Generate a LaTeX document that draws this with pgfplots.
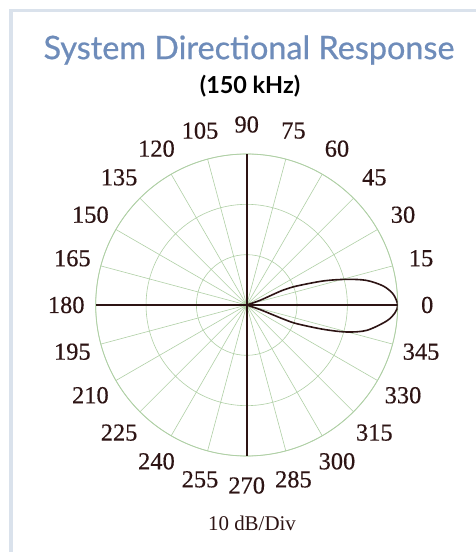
\documentclass[border=0pt]{standalone}
\usepackage{pgfplots}
\pgfplotsset{compat=1.18}
\usepackage{pgfplotstable}
\usepgfplotslibrary{polar}
\usepackage{fontspec}
\setmainfont{Liberation Serif}
\newfontfamily\tickfont[FakeBold=0.4]{Liberation Serif}
\newfontfamily\titlefont{Lato}
\newfontfamily\titlefontheavy[FakeBold=0.6]{Lato}
\definecolor{titleblue}{RGB}{110,140,186}
\definecolor{gridgreen}{RGB}{176,208,166}
\definecolor{darkline}{RGB}{45,20,20}
\definecolor{framecol}{RGB}{218,226,236}
\pgfplotstableread{
ang db
18 -30
19.3 -27.2
21.8 -24.3
22.2 -22.1
20.8 -19.4
17.4 -14.0
14.4 -9.5
11.6 -5.7
7.9 -2.6
4.2 -0.8
0 0
-3 -0.5
-6.5 -2.0
-11.9 -5.6
-15.1 -9.4
-17.6 -14.0
-20.5 -19.4
-21 -22
-20.6 -24.3
-19 -27.2
-18 -30
}\lobe
\begin{document}
\begin{tikzpicture}[x=1bp,y=1bp]
\path[use as bounding box] (0,0) rectangle (476,552);
\fill[white] (0,0) rectangle (476,552);
\draw[framecol, line width=3.5bp] (11,0) -- (11,541.5) -- (476,541.5);
\node[font=\titlefontheavy\fontsize{32.5}{38}\selectfont, text=titleblue] at (249,502) {System Directional Response};
\node[font=\titlefont\bfseries\fontsize{23.5}{27}\selectfont] at (250,466) {(150 kHz)};
\node[font=\fontsize{21}{25}\selectfont, text=darkline] at (252,29) {10 dB/Div};
\begin{polaraxis}[
  at={(246.7bp,247bp)}, anchor=origin,
  width=302bp, height=302bp, scale only axis,
  xmin=0, xmax=360, ymin=0, ymax=30,
  xtick={0,15,...,345},
  ytick={10,20,30},
  yticklabels={},
  grid=major,
  grid style={gridgreen, line width=0.6bp},
  axis line style={gridgreen, line width=0.8bp},
  major tick length=0pt,
  /pgf/number format/assume math mode=true,
  xticklabel={\pgfmathprintnumber{\tick}},
  xticklabel style={anchor=center, shift={(\tick:29.5bp)}, font=\tickfont\fontsize{24.5}{28}\selectfont, text=darkline},
]
\draw[darkline, line width=1.6bp] (axis cs:0,30) -- (axis cs:180,30);
\draw[darkline, line width=1.6bp] (axis cs:90,30) -- (axis cs:270,30);
\addplot[darkline, line width=1.6bp, smooth, tension=0.5] table[x=ang, y expr={\thisrow{db}+30}] {\lobe};
\end{polaraxis}
\end{tikzpicture}
\end{document}
